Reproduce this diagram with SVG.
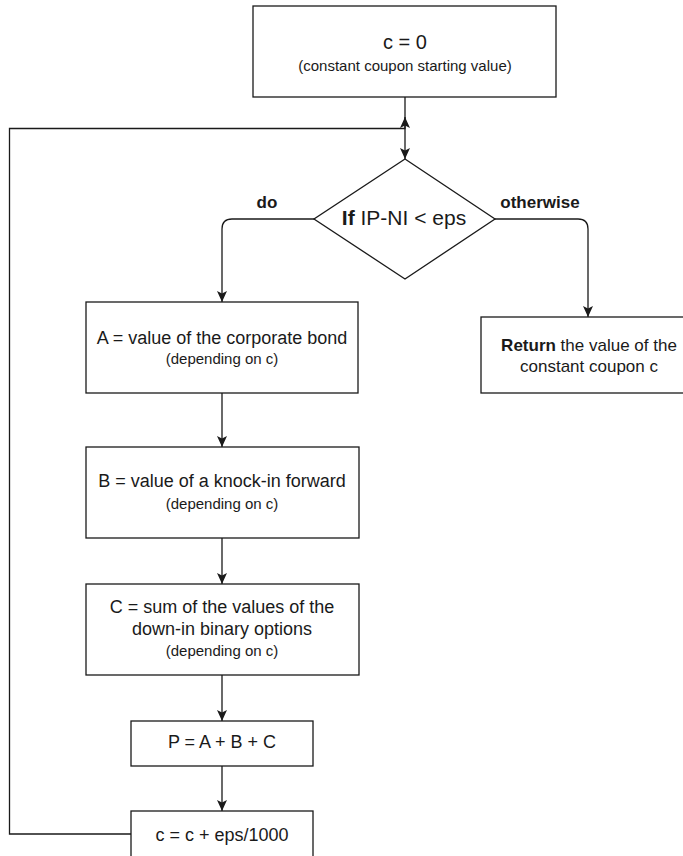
<svg xmlns="http://www.w3.org/2000/svg" width="683" height="856" viewBox="0 0 683 856">
<style>
.box{fill:#fff;stroke:#1a1a1a;stroke-width:1.3}
.t{font-family:"Liberation Sans",Arial,sans-serif;fill:#1a1a1a;text-anchor:middle}
.m{font-size:18px}
.s{font-size:15px}
.b{font-weight:bold}
.c{fill:none;stroke:#1a1a1a;stroke-width:1.3}
</style>
<defs>
<marker id="arr" markerUnits="userSpaceOnUse" markerWidth="12" markerHeight="12" refX="11" refY="5" orient="auto">
<path d="M0,0 L11,5 L0,10 L2.5,5 Z" fill="#1a1a1a"/>
</marker>
</defs>
<rect width="683" height="856" fill="#fff"/>
<g id="connectors">
<path class="c" d="M405,97 V159" marker-end="url(#arr)"/>
<path class="c" d="M131,834 H9.5 V128.5 H405 V117" marker-end="url(#arr)"/>
<path class="c" d="M314,219 H232 Q222,219 222,229 V302" marker-end="url(#arr)"/>
<path class="c" d="M495,219 H578 Q588,219 588,229 V317" marker-end="url(#arr)"/>
<path class="c" d="M222,393 V447" marker-end="url(#arr)"/>
<path class="c" d="M222,538 V584" marker-end="url(#arr)"/>
<path class="c" d="M222,675 V721" marker-end="url(#arr)"/>
<path class="c" d="M222,766 V811" marker-end="url(#arr)"/>
</g>
<g id="start">
<rect class="box" x="253" y="6" width="303" height="91"/>
<text class="t" x="405" y="49" font-size="20">c = 0</text>
<text class="t s" x="405" y="71">(constant coupon starting value)</text>
</g>
<g id="decision">
<polygon class="box" points="405,159 495,219 405,279 314,219"/>
<text class="t" x="404" y="225" font-size="21"><tspan class="b">If</tspan> IP-NI &lt; eps</text>
<text class="t b" x="267" y="208" font-size="17">do</text>
<text class="t b" x="540" y="208" font-size="17">otherwise</text>
</g>
<g id="nodeA">
<rect class="box" x="86" y="302" width="272" height="91"/>
<text class="t m" x="222" y="344">A = value of the corporate bond</text>
<text class="t s" x="222" y="364">(depending on c)</text>
</g>
<g id="nodeB">
<rect class="box" x="86" y="447" width="273" height="91"/>
<text class="t m" x="222" y="487">B = value of a knock-in forward</text>
<text class="t s" x="222" y="509">(depending on c)</text>
</g>
<g id="nodeC">
<rect class="box" x="86" y="584" width="273" height="91"/>
<text class="t m" x="222" y="613">C = sum of the values of the</text>
<text class="t m" x="222" y="635">down-in binary options</text>
<text class="t s" x="222" y="656">(depending on c)</text>
</g>
<g id="nodeP">
<rect class="box" x="131" y="721" width="182" height="45"/>
<text class="t m" x="222" y="748">P = A + B + C</text>
</g>
<g id="nodeInc">
<rect class="box" x="131" y="811" width="182" height="50"/>
<text class="t m" x="222" y="841">c = c + eps/1000</text>
</g>
<g id="nodeReturn">
<rect class="box" x="481" y="317" width="214" height="76"/>
<text class="t" x="589" y="351" font-size="17"><tspan class="b">Return</tspan> the value of the</text>
<text class="t" x="589" y="372" font-size="17">constant coupon c</text>
</g>
</svg>
